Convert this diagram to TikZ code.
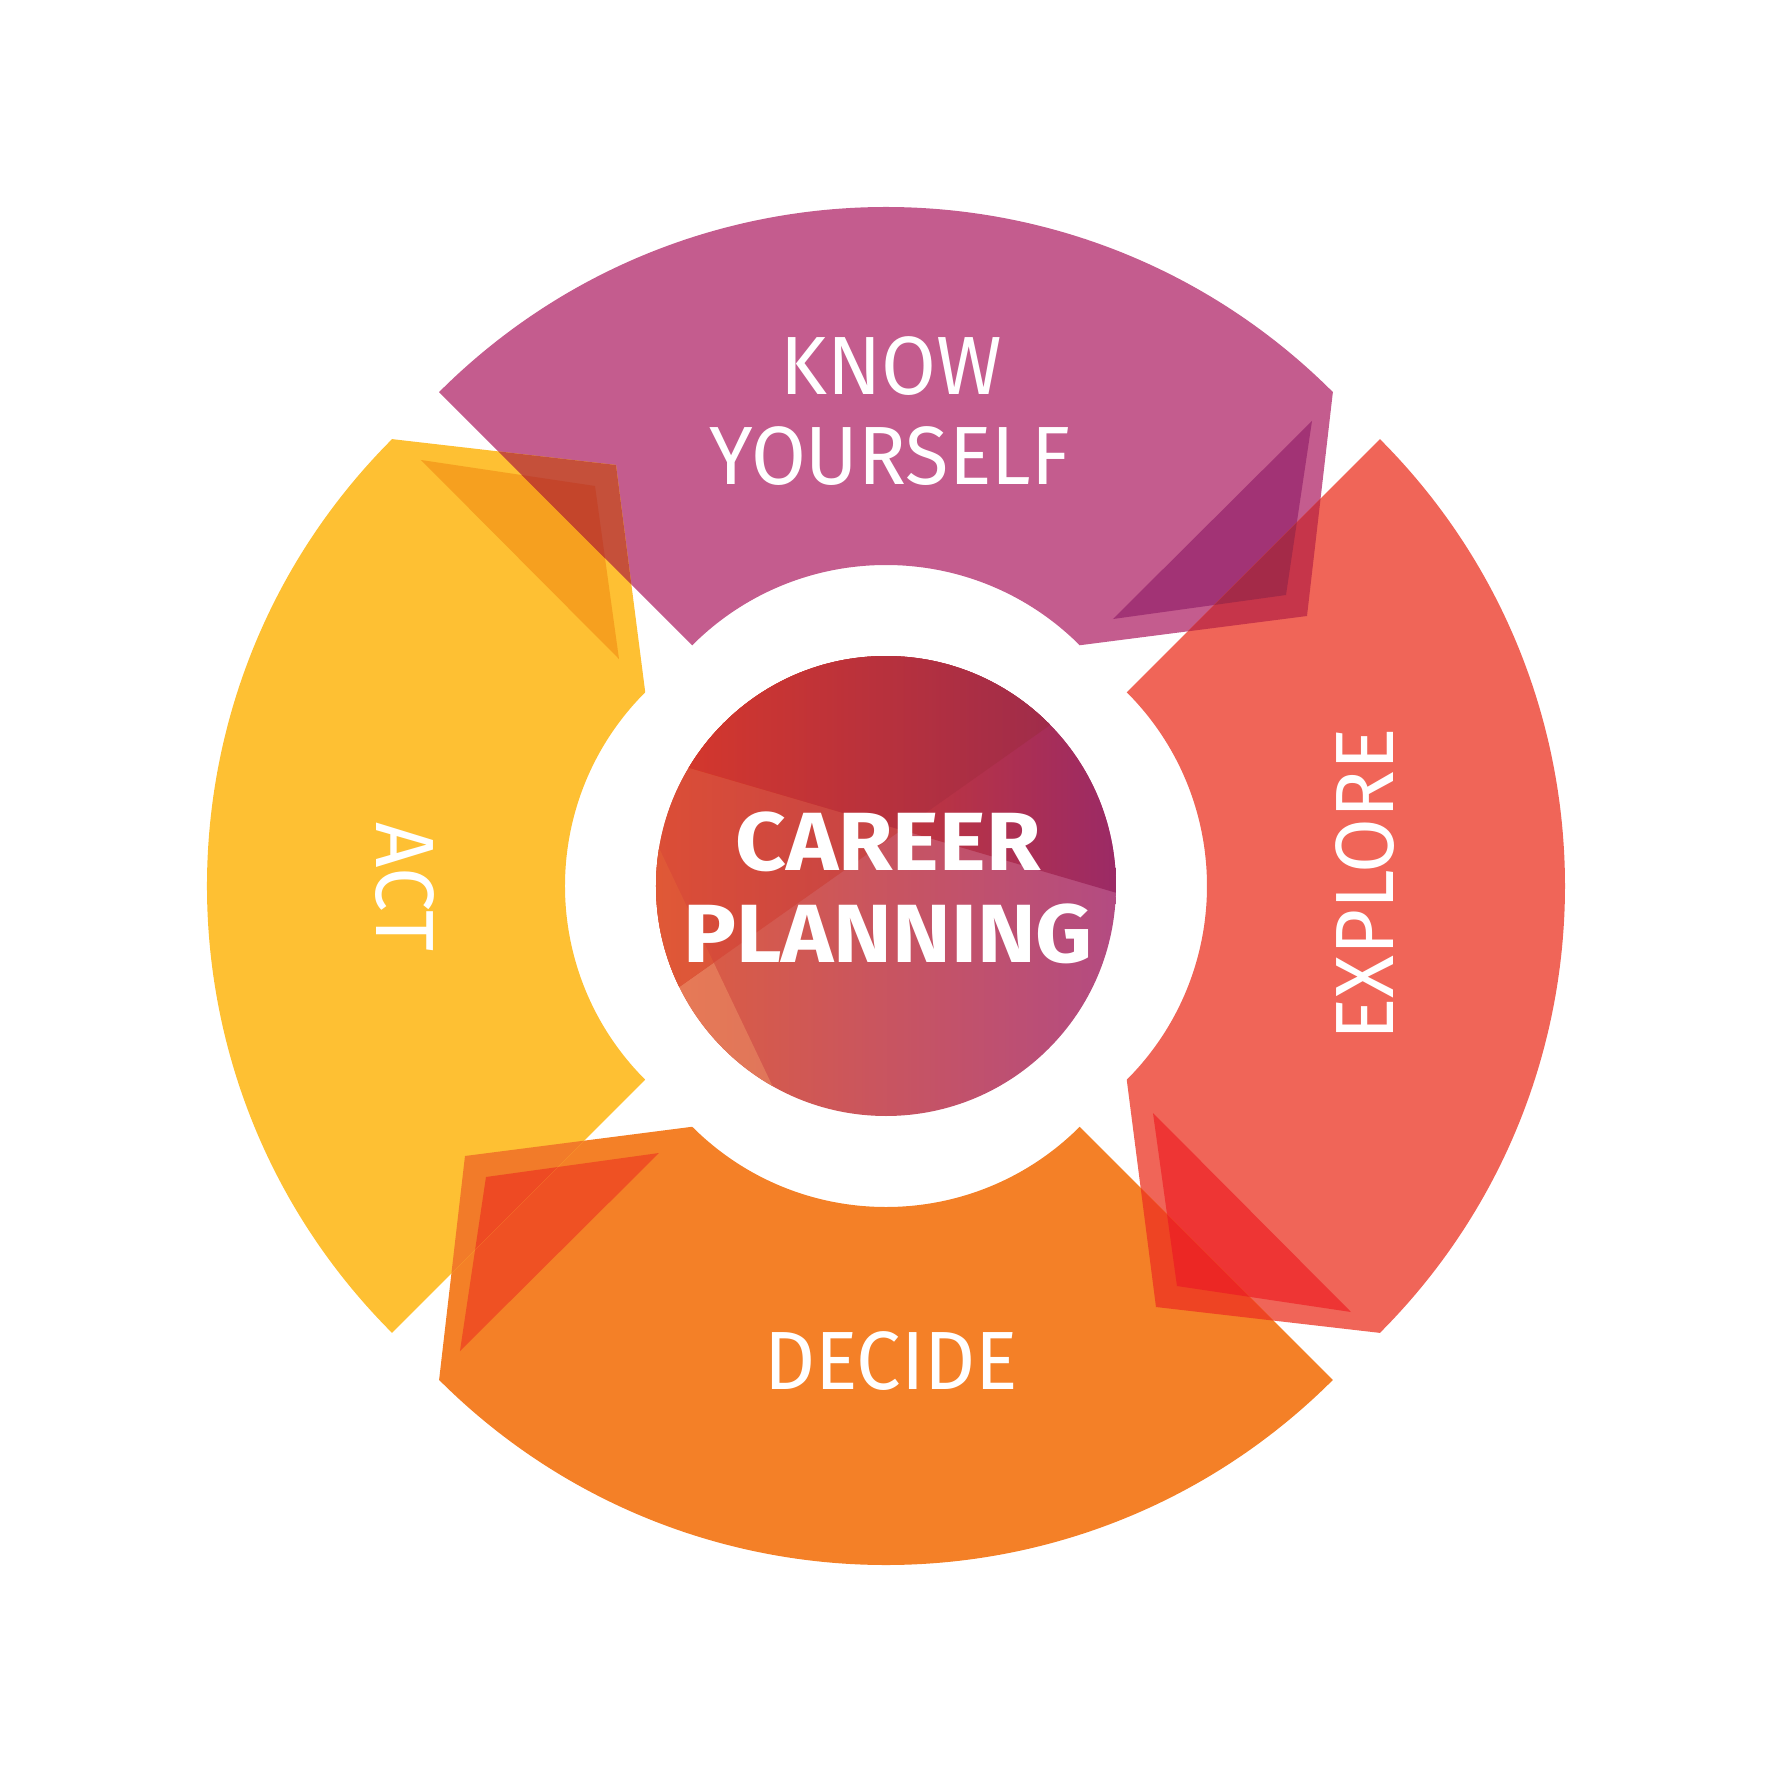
\documentclass[tikz,border=0pt]{standalone}
\usepackage{fontspec}
\setmainfont{Fira Sans}[FakeStretch=0.96]
\newfontfamily\hubfont{Fira Sans}[FakeStretch=1.07]
\definecolor{segpurple}{HTML}{C45C8E}
\definecolor{segcoral}{HTML}{F06558}
\definecolor{segorange}{HTML}{F48027}
\definecolor{segyellow}{HTML}{FEC033}
\definecolor{tripurple}{HTML}{A23375}
\definecolor{tricoral}{HTML}{EE3534}
\definecolor{triorange}{HTML}{EF5123}
\definecolor{triyellow}{HTML}{F6A01F}
\definecolor{ovpurple}{HTML}{C6354A}
\definecolor{ovtripurple}{HTML}{A42A48}
\definecolor{ovcoral}{HTML}{EE4423}
\definecolor{ovtricoral}{HTML}{EC2724}
\definecolor{ovorange}{HTML}{F27B29}
\definecolor{ovtriorange}{HTML}{EE4A23}
\definecolor{ovyellow}{HTML}{C5503A}
\definecolor{ovtriyellow}{HTML}{C4452B}
\newcommand{\ringseg}{(-446.9,493.9) arc[start angle=135,end angle=45,radius=632] -- (421,270) -- (193.75,240.75) arc[start angle=45,end angle=135,radius=274] -- cycle}
\newcommand{\arrowtip}{(446.9,493.9) -- (421,270) -- (193.75,240.75) -- cycle}
\newcommand{\innertri}{(426,465) -- (400,291) -- (227,267) -- cycle}
\newcommand{\hubdisc}{(0,0) circle[radius=230]}
\newcommand{\hubbox}{(-232,-232) rectangle (232,232)}
\begin{document}
\begin{tikzpicture}[x=0.01cm,y=0.01cm,
  lbl/.style={text=white,inner sep=0pt,anchor=base,font=\fontsize{23.5}{28}\selectfont},
  hublbl/.style={lbl,font=\fontsize{23.5}{28}\selectfont\hubfont\bfseries}]
\useasboundingbox (-886,-886) rectangle (886,886);
\foreach \ang/\segcol/\tricol in {0/segpurple/tripurple,-90/segcoral/tricoral,-180/segorange/triorange,-270/segyellow/triyellow}{
  \fill[\segcol,rotate=\ang] \ringseg;
  \fill[\tricol,rotate=\ang] \innertri;
}
\foreach \ang/\ovcol/\ovtri in {0/ovpurple/ovtripurple,-90/ovcoral/ovtricoral,-180/ovorange/ovtriorange,-270/ovyellow/ovtriyellow}{
  \begin{scope}
    \clip[rotate=\ang-90] \ringseg;
    \fill[\ovcol,rotate=\ang] \arrowtip;
    \fill[\ovtri,rotate=\ang] \innertri;
  \end{scope}
}
\begin{scope}
  \clip \hubdisc;
  \shade[left color={rgb,255:red,222;green,94;blue,62},right color={rgb,255:red,179;green,75;blue,130}] \hubbox;
  \begin{scope}
    \clip (-351.9,300) -- (-65.8,-300) -- (-400,-300) -- (-400,300) -- cycle;
    \shade[left color={rgb,255:red,232;green,122;blue,85},right color={rgb,255:red,200;green,106;blue,106}] \hubbox;
  \end{scope}
  \begin{scope}
    \clip (-300,-166.8) -- (300,257) -- (300,300) -- (-300,300) -- cycle;
    \shade[left color={rgb,255:red,220;green,78;blue,54},right color={rgb,255:red,176;green,58;blue,85}] \hubbox;
    \clip (-351.9,300) -- (-65.8,-300) -- (-400,-300) -- (-400,300) -- cycle;
    \shade[left color={rgb,255:red,224;green,88;blue,54},right color={rgb,255:red,192;green,74;blue,80}] \hubbox;
  \end{scope}
  \begin{scope}
    \clip (-300,148.4) -- (300,-27.2) -- (300,300) -- (-300,300) -- cycle;
    \shade[left color={rgb,255:red,232;green,66;blue,15},right color={rgb,255:red,155;green,42;blue,102}] \hubbox;
    \clip (-300,-166.8) -- (300,257) -- (300,300) -- (-300,300) -- cycle;
    \shade[left color={rgb,255:red,216;green,56;blue,42},right color={rgb,255:red,150;green,42;blue,80}] \hubbox;
  \end{scope}
\end{scope}
\node at (5,491) [lbl] (know) {KNOW};
\node at (4,401) [lbl] (yourself) {YOURSELF};
\node at (5,-503) [lbl] (decide) {DECIDE};
\node at (508,1.5) [lbl,rotate=90] (explore) {EXPLORE};
\node at (-509,-1) [lbl,rotate=-90] (act) {ACT};
\node at (2,16) [hublbl] (career) {CAREER};
\node at (2,-76) [hublbl] (planning) {PLANNING};
\end{tikzpicture}
\end{document}
